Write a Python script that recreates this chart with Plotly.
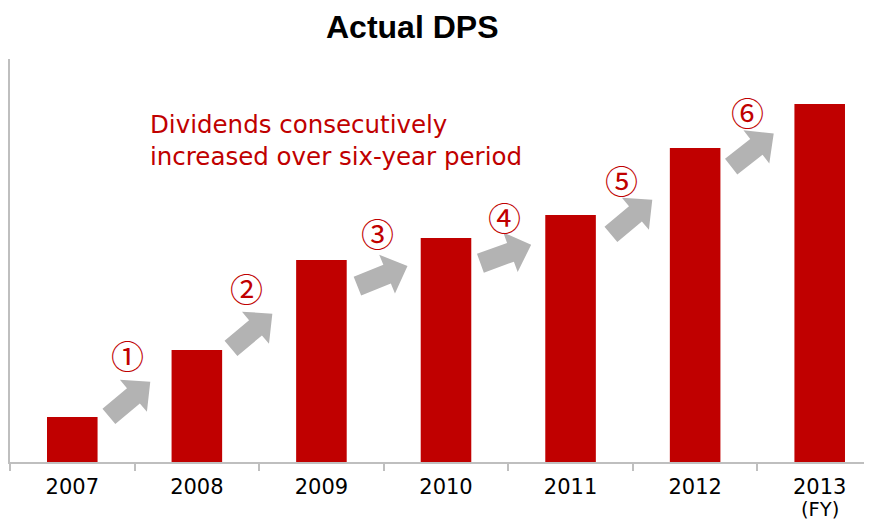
import math
import plotly.graph_objects as go

# ---- data ----
years = ["2007", "2008", "2009", "2010", "2011", "2012", "2013"]
fy_note = "(FY)"
dps = [45, 112, 202, 224, 247, 314, 358]          # relative bar heights
step_labels = ["①", "②", "③", "④", "⑤", "⑥"]
note_text = "Dividends consecutively<br>increased over six-year period"
title_text = "<b>Actual DPS</b>"

# ---- decoration placement (data coords) ----
arrow_x = [0.46, 1.44, 2.49, 3.48, 4.49, 5.46]
arrow_y = [63, 131, 186, 208, 245, 312]
arrow_angle = [40, 40, 22, 20, 40, 38]
label_x = [0.44, 1.40, 2.45, 3.47, 4.41, 5.42]
label_y = [107, 174, 229, 245, 282, 350]

RED = "#C00000"
GRAY = "#B3B3B3"
AXIS = "#BFBFBF"

xs = list(range(len(years)))

fig = go.Figure()
fig.add_trace(go.Bar(x=xs, y=dps, marker=dict(color=RED, line=dict(width=0)),
                     width=0.406, hoverinfo="skip"))


def arrow_path(theta_deg, L=54, w=10, H=21, h=22):
    pts = [(-L / 2, -w), (L / 2 - h, -w), (L / 2 - h, -H), (L / 2, 0),
           (L / 2 - h, H), (L / 2 - h, w), (-L / 2, w)]
    t = math.radians(theta_deg)
    c, s = math.cos(t), math.sin(t)
    rp = [(u * c - v * s, u * s + v * c) for u, v in pts]
    return "M " + " L ".join(f"{x:.2f},{y:.2f}" for x, y in rp) + " Z"


shapes = []
for ax_, ay_, ang in zip(arrow_x, arrow_y, arrow_angle):
    shapes.append(dict(type="path", xref="x", yref="y", xsizemode="pixel",
                       ysizemode="pixel", xanchor=ax_, yanchor=ay_,
                       path=arrow_path(ang), fillcolor=GRAY, line=dict(width=0)))

annotations = []
for lx, ly, t in zip(label_x, label_y, step_labels):
    annotations.append(dict(x=lx, y=ly, xref="x", yref="y", text=t, showarrow=False,
                            font=dict(family="Noto Sans CJK JP", size=33, color=RED),
                            xanchor="center", yanchor="middle"))
annotations.append(dict(x=(148 - 10) / 862, y=(462 - 140) / 403, xref="paper", yref="paper",
                        text=note_text, showarrow=False, align="left",
                        xanchor="left", yanchor="middle",
                        font=dict(family="DejaVu Sans", size=24.5, color=RED)))
annotations.append(dict(x=(411.5 - 10) / 862, y=(462 - 27) / 403, xref="paper", yref="paper",
                        text=title_text, showarrow=False, xanchor="center", yanchor="middle",
                        font=dict(family="Liberation Sans", size=32, color="black")))
annotations.append(dict(x=xs[-1], y=-47 / 403, xref="x", yref="paper", text=fy_note,
                        showarrow=False, xanchor="center", yanchor="middle", borderpad=0,
                        font=dict(family="DejaVu Sans", size=19.5, color="black")))

fig.update_layout(
    width=864, height=514,
    margin=dict(l=2, r=0, t=51, b=60, autoexpand=False),
    paper_bgcolor="white", plot_bgcolor="white",
    showlegend=False,
    xaxis=dict(range=[-0.5, -0.5 + 862 / 124.57], tickvals=xs, ticktext=years,
               ticks="", showline=True, linecolor=AXIS, linewidth=1.5,
               showgrid=False, zeroline=False, ticklabelstandoff=5, automargin=False,
               tickfont=dict(family="DejaVu Sans", size=21, color="black"),
               minor=dict(tickvals=[i - 0.5 for i in range(len(years) + 1)],
                          ticks="outside", ticklen=7, tickcolor=AXIS, tickwidth=1.5,
                          showgrid=False)),
    yaxis=dict(range=[0, 403], showline=True, linecolor=AXIS, linewidth=1.5,
               showticklabels=False, ticks="", showgrid=False, zeroline=False,
               automargin=False),
    shapes=shapes, annotations=annotations,
)

fig.write_html("out.html")
